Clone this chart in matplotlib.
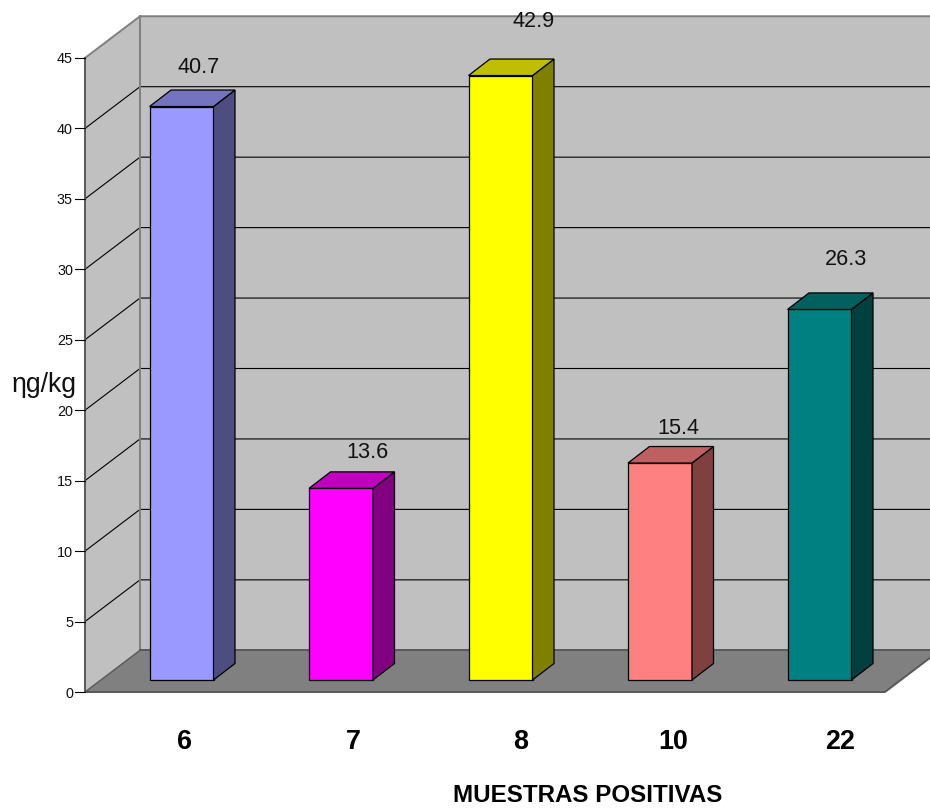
import matplotlib
matplotlib.use('Agg')
import matplotlib.pyplot as plt
from matplotlib.patches import Polygon

plt.rcParams['font.family'] = ['Liberation Sans', 'DejaVu Sans']

# data
muestras = ['6', '7', '8', '10', '22']
valores = [40.7, 13.6, 42.9, 15.4, 26.3]
ticks = [0, 5, 10, 15, 20, 25, 30, 35, 40, 45]

colores = ['#9999FF', '#FF00FF', '#FFFF00', '#FF8080', '#008080']
techos = ['#7373BF', '#BF00BF', '#BFBF00', '#BF6060', '#006060']
lados = ['#4D4D80', '#800080', '#808000', '#804040', '#004040']

# scale of the pseudo 3d box, pixels per unit
PX_X = 159.5
PX_Y = 14.09
X0 = 181.5
Y0 = 692
W, H = 930, 809

ANCHO = 64 / PX_X
FONDO_X, FONDO_Y = 55 / PX_X, 41.7 / PX_Y
BARRA_X, BARRA_Y = 21.5 / PX_X, 16.5 / PX_Y
BASE_Y = 12 / PX_Y
PARED_I, PARED_D = (85 - X0) / PX_X, (885 - X0) / PX_X

fig = plt.figure(figsize=(W / 100, H / 100), dpi=100)
ax = fig.add_axes([0, 0, 1, 1])
ax.set_xlim(-X0 / PX_X, (W - X0) / PX_X)
ax.set_ylim((Y0 - H) / PX_Y, Y0 / PX_Y)
ax.axis('off')

# side wall, back wall and floor
techo_v = ticks[-1]
ax.add_patch(Polygon([(PARED_I, 0), (PARED_I + FONDO_X, FONDO_Y),
                      (PARED_I + FONDO_X, techo_v + FONDO_Y), (PARED_I, techo_v)],
                     fc='#C0C0C0', ec='none', zorder=1))
ax.add_patch(Polygon([(PARED_I + FONDO_X, FONDO_Y), (PARED_D + FONDO_X, FONDO_Y),
                      (PARED_D + FONDO_X, techo_v + FONDO_Y), (PARED_I + FONDO_X, techo_v + FONDO_Y)],
                     fc='#C0C0C0', ec='none', zorder=1))
ax.add_patch(Polygon([(PARED_I, 0), (PARED_D, 0), (PARED_D + FONDO_X, FONDO_Y), (PARED_I + FONDO_X, FONDO_Y)],
                     fc='#808080', ec='none', zorder=2))

# gridlines run along the side wall then across the back
for t in ticks[1:-1]:
    ax.plot([PARED_I, PARED_I + FONDO_X, PARED_D + FONDO_X],
            [t, t + FONDO_Y, t + FONDO_Y], color='black', lw=0.8, zorder=3)

# box edges
gris = '#808080'
oscuro = '#585858'
ax.plot([PARED_I, PARED_I + FONDO_X, PARED_D + FONDO_X],
        [techo_v, techo_v + FONDO_Y, techo_v + FONDO_Y], color=gris, lw=1.4, zorder=3)
ax.plot([PARED_I + FONDO_X] * 2, [FONDO_Y, techo_v + FONDO_Y], color=gris, lw=1.4, zorder=3)
ax.plot([PARED_I + FONDO_X, PARED_D + FONDO_X], [FONDO_Y, FONDO_Y], color=oscuro, lw=1.4, zorder=3)
ax.plot([PARED_I, PARED_I + FONDO_X], [0, FONDO_Y], color=oscuro, lw=1, zorder=3)
ax.plot([PARED_I, PARED_I], [0, techo_v], color=oscuro, lw=1.4, zorder=4)
ax.plot([PARED_I, PARED_D, PARED_D + FONDO_X], [0, 0, FONDO_Y], color=oscuro, lw=1.4, zorder=4)

# y axis ticks
for t in ticks:
    ax.plot([PARED_I - 10 / PX_X, PARED_I], [t, t], color='black', lw=0.8, zorder=4)
    ax.annotate(str(t), xy=(PARED_I, t), xytext=(-12, -1.5), textcoords='offset pixels',
                ha='right', va='center', fontsize=10.4, color='#111111')

# bars
for i, v in enumerate(valores):
    x1, x2 = i - ANCHO / 2, i + ANCHO / 2
    y1, y2 = BASE_Y, BASE_Y + v
    estilo = dict(ec='black', lw=0.9, joinstyle='miter', zorder=5)
    ax.add_patch(Polygon([(x1, y1), (x2, y1), (x2, y2), (x1, y2)], fc=colores[i], **estilo))
    ax.add_patch(Polygon([(x2, y1), (x2 + BARRA_X, y1 + BARRA_Y), (x2 + BARRA_X, y2 + BARRA_Y), (x2, y2)],
                         fc=lados[i], **estilo))
    ax.add_patch(Polygon([(x1, y2), (x2, y2), (x2 + BARRA_X, y2 + BARRA_Y), (x1 + BARRA_X, y2 + BARRA_Y)],
                         fc=techos[i], **estilo))

# value labels sit at slightly different spots over each bar
etiqueta_dx = [17.5, 26, 33, 18.5, 27]
etiqueta_dy = [39, 36, 54, 35, 50]
for i, v in enumerate(valores):
    ax.annotate(f'{v:.1f}', xy=(i, v + BASE_Y), xytext=(etiqueta_dx[i], etiqueta_dy[i]),
                textcoords='offset pixels', ha='center', va='center', fontsize=15.6,
                color='#111111', zorder=6)

# category labels
categoria_dx = [3.5, 12, 20, 13, 20.5]
for i, m in enumerate(muestras):
    ax.annotate(m, xy=(i, 0), xytext=(categoria_dx[i], -50), textcoords='offset pixels',
                ha='center', va='center', fontsize=19.4, fontweight='bold', color='black')

ax.text((587.5 - X0) / PX_X, (Y0 - 795) / PX_Y, 'MUESTRAS POSITIVAS', ha='center', va='center',
        fontsize=17.4, fontweight='bold', color='black')
ax.text((44.5 - X0) / PX_X, (Y0 - 385) / PX_Y, 'ηg/kg', ha='center', va='center',
        fontsize=19.2, color='#111111')

fig.savefig('out.png', dpi=100)
